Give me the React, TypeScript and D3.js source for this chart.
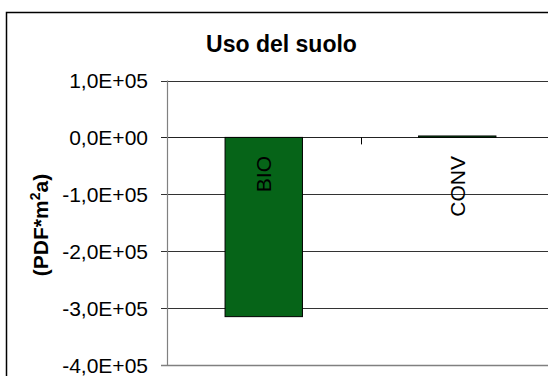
import React from "react";
import * as d3 from "d3";

const categories = ["BIO", "CONV"];
const values = [-315000, 2500];
const yTicks = [100000, 0, -100000, -200000, -300000, -400000];
const title = "Uso del suolo";

const W = 548;
const H = 376;
const plot = { left: 167, right: 554, top: 80.5, bottom: 365 };

function fmt(v: number): string {
  if (v === 0) return "0,0E+00";
  const e = Math.floor(Math.log10(Math.abs(v)));
  const m = v / Math.pow(10, e);
  const s = m.toFixed(1).replace(".", ",");
  return `${s}E${e >= 0 ? "+" : "-"}${String(Math.abs(e)).padStart(2, "0")}`;
}

export default function App() {
  const y = d3.scaleLinear().domain([-400000, 100000]).range([plot.bottom, plot.top]);
  const x = d3
    .scaleBand<string>()
    .domain(categories)
    .range([plot.left, plot.right])
    .paddingInner(0.6)
    .paddingOuter(0.3);
  const bandStep = x.step();
  const font = "'Liberation Sans', Arial, sans-serif";
  const y0 = y(0);

  return (
    <svg
      width={W}
      height={H}
      style={{ position: "absolute", left: 0, top: 0, background: "#fff" }}
      fontFamily={font}
    >
      <rect x={0} y={0} width={W} height={H} fill="#fff" />
      <rect x={6.5} y={12.5} width={W + 20} height={H + 20} fill="none" stroke="#000" strokeWidth={1.5} />
      <text x={281.5} y={52} textAnchor="middle" fontSize={23} fontWeight="bold" fill="#000">
        {title}
      </text>
      {/* gridlines */}
      {yTicks.map((t) => (
        <line
          key={"g" + t}
          x1={plot.left - 6}
          x2={plot.right}
          y1={Math.round(y(t)) + 0.5}
          y2={Math.round(y(t)) + 0.5}
          stroke={t === -400000 ? "#808080" : t === 0 ? "#222" : "#333"}
          strokeWidth={t === -400000 ? 1.5 : 1}
        />
      ))}
      {/* y axis line */}
      <line x1={plot.left + 0.5} x2={plot.left + 0.5} y1={plot.top} y2={plot.bottom} stroke="#808080" strokeWidth={1.2} />
      {/* tick labels */}
      {yTicks.map((t) => (
        <text
          key={"l" + t}
          x={148}
          y={y(t) + 7.5}
          textAnchor="end"
          fontSize={21}
          fill="#000"
        >
          {fmt(t)}
        </text>
      ))}
      {/* bars */}
      {categories.map((c, i) => {
        const v = values[i];
        const yTop = y(Math.max(0, v));
        const yBot = y(Math.min(0, v));
        return (
          <rect
            key={"b" + c}
            x={x(c)!}
            y={yTop}
            width={x.bandwidth()}
            height={Math.max(1, yBot - yTop)}
            fill="#066418"
            stroke="#000"
            strokeWidth={1}
          />
        );
      })}
      {/* category separator tick on zero line */}
      {categories.slice(1).map((c) => {
        const sx = Math.round(x(c)! - (bandStep - x.bandwidth()) / 2) + 0.5;
        return <line key={"s" + c} x1={sx} x2={sx} y1={y0} y2={y0 + 7} stroke="#000" strokeWidth={1} />;
      })}
      {/* bar labels */}
      {categories.map((c) => {
        const cx = x(c)! + x.bandwidth() / 2;
        return (
          <text
            key={"t" + c}
            transform={`translate(${cx + 7.5},156) rotate(-90)`}
            textAnchor="end"
            fontSize={21}
            fill="#000"
          >
            {c}
          </text>
        );
      })}
      {/* y axis title */}
      <text
        transform="translate(48,225) rotate(-90)"
        textAnchor="middle"
        fontSize={21}
        fontWeight="bold"
        fill="#000"
      >
        (PDF*m
        <tspan dy={-8} fontSize={14}>2</tspan>
        <tspan dy={8}>a)</tspan>
      </text>
    </svg>
  );
}
